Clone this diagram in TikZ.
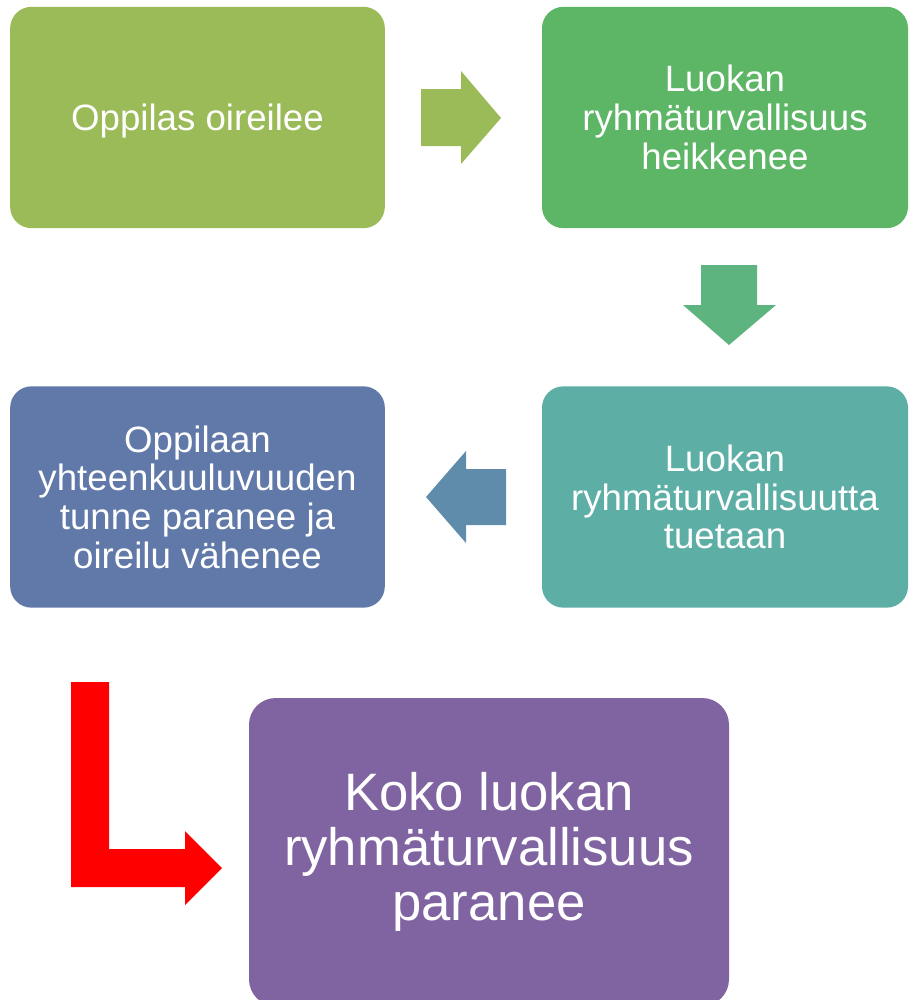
\documentclass[tikz,border=0pt]{standalone}
\usepackage{fontspec}
\setmainfont{Liberation Sans}
\usetikzlibrary{positioning}
\definecolor{olivegreen}{HTML}{9BBB59}
\definecolor{midgreen}{HTML}{5DB566}
\definecolor{arrowgreen}{HTML}{5DB47E}
\definecolor{tealbox}{HTML}{5DAFA6}
\definecolor{arrowblue}{HTML}{5F8CAA}
\definecolor{bluebox}{HTML}{6079A8}
\definecolor{purplebox}{HTML}{8064A1}

\begin{document}
\begin{tikzpicture}
	% style
	[x=0.75pt, y=-0.75pt,
	step_box/.style={rectangle, rounded corners=16pt, inner sep=0pt, text=white, align=center,
		font=\fontsize{27.5}{29}\selectfont, minimum height=166pt},
	big_box/.style={rectangle, rounded corners=20pt, inner sep=0pt, text=white, align=center,
		font=\fontsize{39.5}{41.5}\selectfont, minimum width=360pt, minimum height=231pt}]
	\useasboundingbox (0,0) rectangle (908,1000);

	% boxes
	\node [step_box, fill=olivegreen, minimum width=281pt] (oireilee) at (197.5,117.5) {};
	\node [font=\fontsize{27.5}{29}\selectfont, text=white] (oireilee_text) at (197.5,121) {Oppilas oireilee};
	\node [step_box, fill=midgreen, minimum width=274.5pt] (heikkenee) at (725,117.5) {Luokan\\ryhmäturvallisuus\\heikkenee};
	\node [step_box, fill=tealbox, minimum width=274.5pt] (tuetaan) at (725,497) {Luokan\\ryhmäturvallisuutta\\tuetaan};
	\node [step_box, fill=bluebox, minimum width=281pt] (vahenee) at (197.5,497) {Oppilaan\\yhteenkuuluvuuden\\tunne paranee ja\\oireilu vähenee};
	\node [big_box, fill=purplebox] (paranee) at (489,852) {Koko luokan\\ryhmäturvallisuus\\paranee};

	% block arrows
	\fill [olivegreen] (421,89) -- (461,89) -- (461,71) -- (501,118) -- (461,164) -- (461,146) -- (421,146) -- cycle;
	\fill [arrowgreen] (701,265) -- (757,265) -- (757,305) -- (776,305) -- (729,345) -- (683,305) -- (701,305) -- cycle;
	\fill [arrowblue] (506,469) -- (466,469) -- (466,451) -- (426,497) -- (466,543) -- (466,525) -- (506,525) -- cycle;
	\fill [red] (71,682) -- (109,682) -- (109,849) -- (185,849) -- (185,831) -- (222,868) -- (185,905) -- (185,887) -- (71,887) -- cycle;
\end{tikzpicture}
\end{document}
